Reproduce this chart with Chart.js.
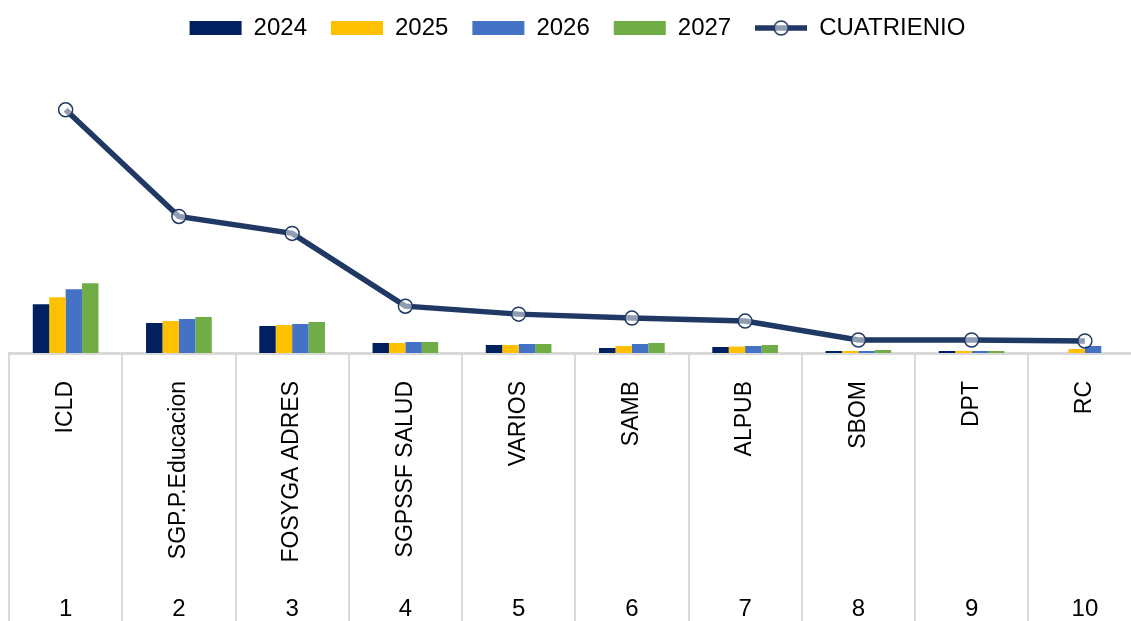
<!DOCTYPE html>
<html>
<head>
<meta charset="utf-8">
<script src="https://cdn.jsdelivr.net/npm/chart.js@4/dist/chart.umd.min.js"></script>
<style>
  html, body { margin: 0; padding: 0; background: #fff; overflow: hidden; }
</style>
</head>
<body>
<canvas id="fuentes" width="1150" height="621"></canvas>
<script>
// DATA
const fuentes = ['ICLD', 'SGP.P.Educacion', 'FOSYGA ADRES', 'SGPSSF SALUD', 'VARIOS', 'SAMB', 'ALPUB', 'SBOM', 'DPT', 'RC'];
const numeros = ['1', '2', '3', '4', '5', '6', '7', '8', '9', '10'];
const v2024 = [49, 30, 27, 10, 8, 5, 6, 2, 2, 0];
const v2025 = [56, 32, 28, 10, 8, 7, 6.5, 2, 2, 4];
const v2026 = [64, 34, 29, 11, 9, 9, 7, 2, 2, 7];
const v2027 = [70, 36, 31, 11, 9, 10, 8, 3, 2, 0];
const cuatrienio = [244, 137, 120, 47, 39, 35, 32, 13, 13, 12];

const FONT = "'Liberation Sans Narrow', 'Arial Narrow', 'Liberation Sans', Arial, sans-serif";
const LINE_COLOR = '#1F3864';

// little line + circle symbol for the legend
const lineSymbol = document.createElement('canvas');
lineSymbol.width = 52;
lineSymbol.height = 18;
(function () {
  const c = lineSymbol.getContext('2d');
  c.strokeStyle = LINE_COLOR;
  c.lineWidth = 5.5;
  c.beginPath();
  c.moveTo(0, 9);
  c.lineTo(52, 9);
  c.stroke();
  c.fillStyle = 'rgba(255,255,255,0.5)';
  c.lineWidth = 1.5;
  c.beginPath();
  c.arc(26, 9, 7, 0, Math.PI * 2);
  c.fill();
  c.stroke();
})();

new Chart(document.getElementById('fuentes'), {
  type: 'bar',
  data: {
    labels: fuentes,
    datasets: [
      { label: '2024', data: v2024, backgroundColor: '#002060', order: 2 },
      { label: '2025', data: v2025, backgroundColor: '#FFC000', order: 2 },
      { label: '2026', data: v2026, backgroundColor: '#4472C4', order: 2 },
      { label: '2027', data: v2027, backgroundColor: '#70AD47', order: 2 },
      {
        type: 'line',
        label: 'CUATRIENIO',
        data: cuatrienio,
        borderColor: LINE_COLOR,
        backgroundColor: LINE_COLOR,
        borderWidth: 5.5,
        tension: 0,
        pointRadius: 7,
        pointBorderWidth: 1.5,
        pointBorderColor: LINE_COLOR,
        pointBackgroundColor: 'rgba(255,255,255,0.5)',
        order: 1
      }
    ]
  },
  options: {
    responsive: false,
    animation: false,
    layout: { padding: { left: 9, right: 4, top: -8, bottom: 0 } },
    datasets: {
      bar: { categoryPercentage: 0.58, barPercentage: 1.0 }
    },
    plugins: {
      tooltip: { enabled: false },
      legend: {
        position: 'top',
        align: 'center',
        labels: {
          color: '#000',
          font: { family: FONT, size: 24 },
          usePointStyle: true,
          pointStyleWidth: 52,
          boxHeight: 14,
          padding: 24,
          sort: (a, b) => a.datasetIndex - b.datasetIndex,
          generateLabels: function (chart) {
            const items = Chart.defaults.plugins.legend.labels.generateLabels(chart);
            items.forEach(item => {
              const ds = chart.data.datasets[item.datasetIndex];
              item.pointStyle = ds.type === 'line' ? lineSymbol : 'rect';
              item.lineWidth = 0;
            });
            return items;
          }
        }
      }
    },
    scales: {
      y: {
        display: false,
        min: 0,
        max: 304
      },
      x: {
        position: 'bottom',
        weight: 0,
        offset: true,
        border: { color: '#D9D9D9', width: 3 },
        grid: {
          drawOnChartArea: false,
          offset: true,
          color: '#D9D9D9',
          lineWidth: 2,
          tickLength: 268
        },
        ticks: {
          color: '#000',
          font: { family: FONT, size: 23 },
          autoSkip: false,
          minRotation: 90,
          maxRotation: 90,
          padding: -240
        },
        afterFit: function (scale) { scale.height = 230; }
      },
      num: {
        type: 'category',
        labels: numeros,
        position: 'bottom',
        weight: 1,
        offset: true,
        border: { display: false },
        grid: { display: false, drawTicks: false },
        ticks: {
          color: '#000',
          font: { family: FONT, size: 24 },
          padding: 12
        },
        afterFit: function (scale) { scale.height = 38; }
      }
    }
  }
});
</script>
</body>
</html>
